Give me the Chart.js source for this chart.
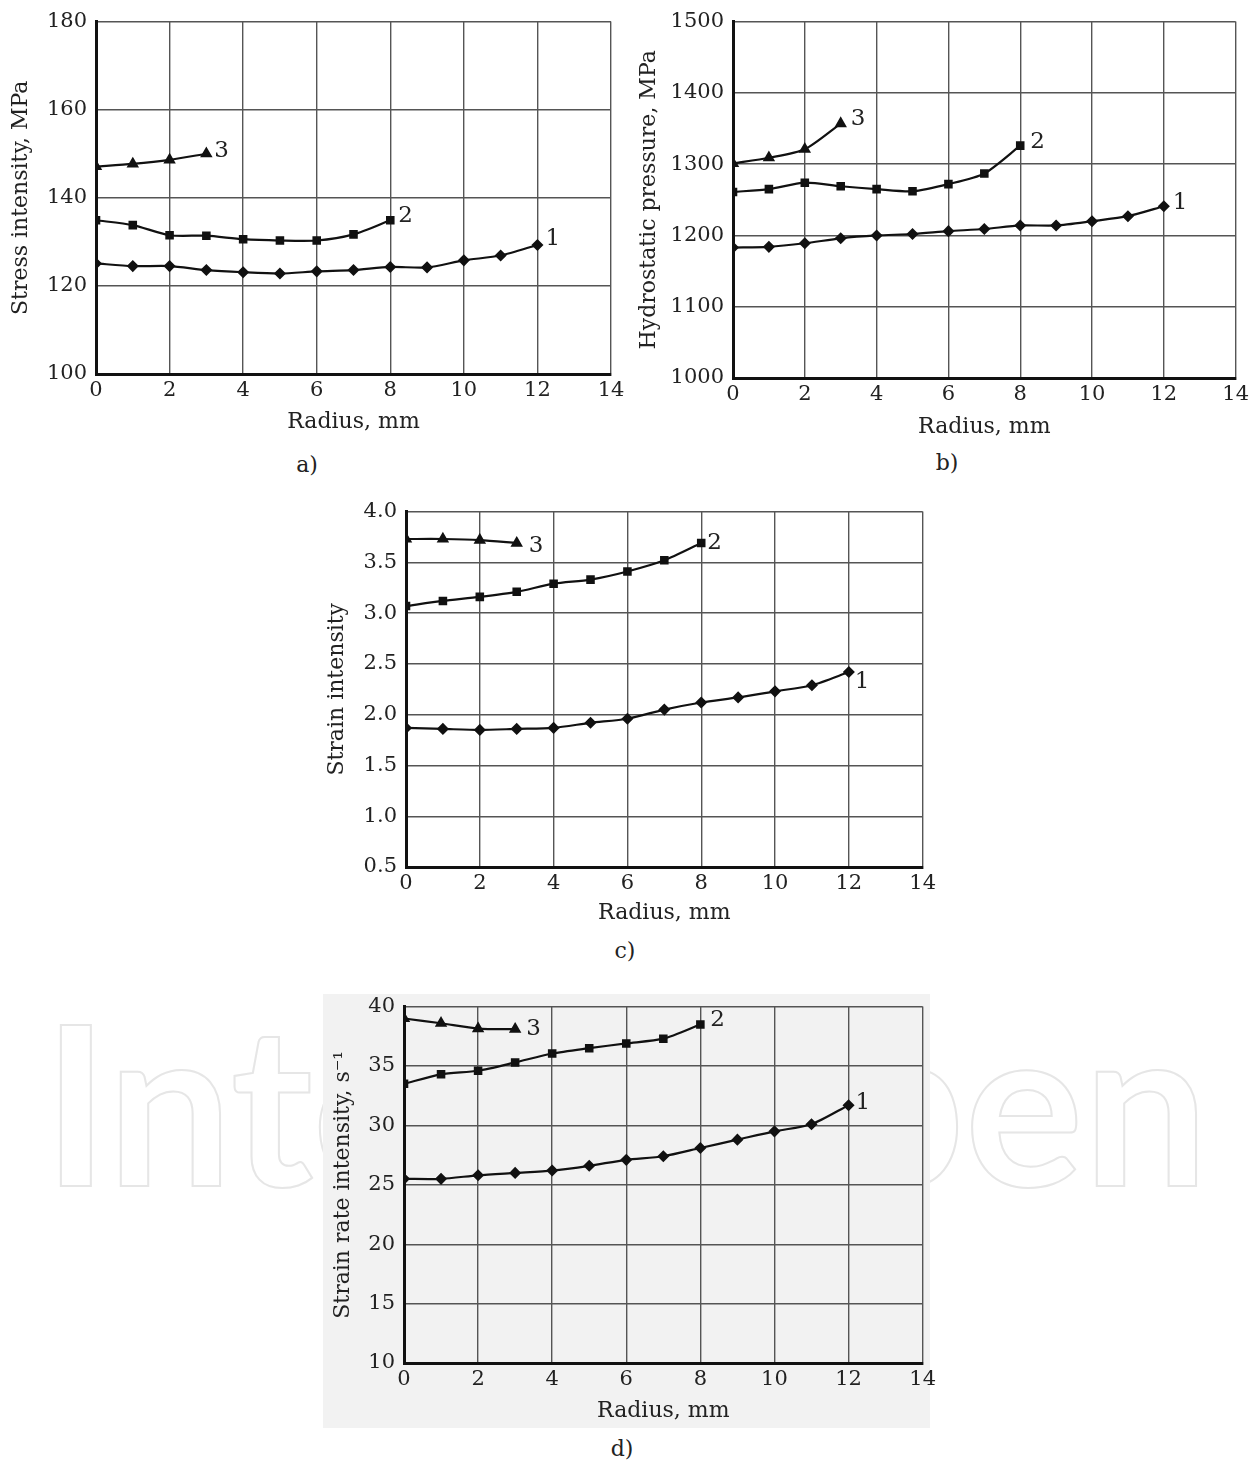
<!DOCTYPE html>
<html>
<head>
<meta charset="utf-8">
<script src="https://cdn.jsdelivr.net/npm/chart.js@4.4.1/dist/chart.umd.min.js"></script>
<style>
  html, body { margin: 0; padding: 0; background: #fff; }
  body { width: 1253px; height: 1463px; position: relative; overflow: hidden; font-family: "DejaVu Serif", serif; color: #222; }
  .box { position: absolute; }
  .box canvas { display: block; }
  .cap { position: absolute; font-size: 22px; transform: translate(-50%, -50%); }
  #watermark { position: absolute; left: 43px; top: 989px; font-family: Lato, sans-serif; font-weight: 700; font-size: 222px; line-height: 1; letter-spacing: 0px; color: transparent; -webkit-text-stroke: 2px #e6e6e6; white-space: nowrap; }
  #shade { position: absolute; left: 323px; top: 994px; width: 607px; height: 434px; background: #f2f2f2; }
</style>
</head>
<body>
<div id="watermark">IntechOpen</div>
<div id="shade"></div>

<div class="box" style="left:0px;top:0px;width:630px;height:440px"><canvas id="chartA"></canvas></div>
<div class="box" style="left:630px;top:0px;width:623px;height:440px"><canvas id="chartB"></canvas></div>
<div class="box" style="left:320px;top:490px;width:620px;height:440px"><canvas id="chartC"></canvas></div>
<div class="box" style="left:320px;top:985px;width:620px;height:445px"><canvas id="chartD"></canvas></div>

<div class="cap" style="left:307px;top:464px">a)</div>
<div class="cap" style="left:947px;top:462px">b)</div>
<div class="cap" style="left:625px;top:950px">c)</div>
<div class="cap" style="left:622px;top:1448px">d)</div>

<script>
// radius points of the three curves (mm)
const radius1 = [0, 1, 2, 3, 4, 5, 6, 7, 8, 9, 10, 11, 12];
const radius2 = [0, 1, 2, 3, 4, 5, 6, 7, 8];
const radius3 = [0, 1, 2, 3];

// a) stress intensity, MPa
const stress1 = [125.1, 124.5, 124.5, 123.6, 123.1, 122.8, 123.3, 123.6, 124.3, 124.2, 125.8, 126.9, 129.3];
const stress2 = [134.9, 133.8, 131.5, 131.4, 130.6, 130.3, 130.3, 131.7, 134.9];
const stress3 = [147.1, 147.7, 148.6, 150.0];

// b) hydrostatic pressure, MPa
const pressure1 = [1183, 1184, 1189, 1196, 1200, 1202, 1206, 1209, 1214, 1214, 1220, 1227, 1241];
const pressure2 = [1261, 1265, 1274, 1269, 1265, 1262, 1272, 1287, 1326];
const pressure3 = [1301, 1309, 1321, 1357];

// c) strain intensity
const strain1 = [1.87, 1.86, 1.85, 1.86, 1.87, 1.92, 1.96, 2.05, 2.12, 2.17, 2.23, 2.29, 2.42];
const strain2 = [3.07, 3.12, 3.16, 3.21, 3.29, 3.33, 3.41, 3.52, 3.69];
const strain3 = [3.73, 3.73, 3.72, 3.69];

// d) strain rate intensity, 1/s
const rate1 = [25.5, 25.5, 25.8, 26.0, 26.2, 26.6, 27.1, 27.4, 28.1, 28.8, 29.5, 30.1, 31.7];
const rate2 = [33.5, 34.3, 34.6, 35.3, 36.05, 36.5, 36.9, 37.3, 38.5];
const rate3 = [39.0, 38.6, 38.15, 38.1];

const curveNames = ['1', '2', '3'];
const xTicks = { min: 0, max: 14, step: 2 };

// number next to the end of each curve
const curveLabels = {
    id: 'curveLabels',
    afterDatasetsDraw(chart) {
        const ctx = chart.ctx;
        ctx.save();
        ctx.font = '23px "DejaVu Serif"';
        ctx.fillStyle = '#222';
        ctx.textBaseline = 'middle';
        chart.data.datasets.forEach((ds, i) => {
            const pts = chart.getDatasetMeta(i).data;
            const last = pts[pts.length - 1];
            ctx.fillText(ds.label, last.x + ds.labelOffset[0], last.y + ds.labelOffset[1]);
        });
        ctx.restore();
    }
};

function pairs(xs, ys) {
    return xs.map((x, i) => ({ x: x, y: ys[i] }));
}

function curve(name, xs, ys, style, radius, offset) {
    return {
        label: name,
        data: pairs(xs, ys),
        borderColor: '#111',
        backgroundColor: '#111',
        borderWidth: 2.2,
        pointStyle: style,
        pointRadius: radius,
        pointHoverRadius: radius,
        tension: 0.25,
        labelOffset: offset
    };
}

function makeChart(id, cfg) {
    const tickFont = { family: 'DejaVu Serif', size: 21 };
    const titleFont = { family: 'DejaVu Serif', size: 22 };
    new Chart(document.getElementById(id), {
        type: 'line',
        data: {
            datasets: [
                curve(curveNames[0], radius1, cfg.s1, 'rectRot', 4.5, cfg.off[0]),
                curve(curveNames[1], radius2, cfg.s2, 'rect', 4.5, cfg.off[1]),
                curve(curveNames[2], radius3, cfg.s3, 'triangle', 5, cfg.off[2])
            ]
        },
        options: {
            responsive: true,
            maintainAspectRatio: false,
            animation: false,
            devicePixelRatio: 1,
            layout: { padding: { top: cfg.padTop, right: cfg.padRight, left: 0, bottom: 0 } },
            plugins: { legend: { display: false }, tooltip: { enabled: false } },
            scales: {
                x: {
                    type: 'linear',
                    min: xTicks.min,
                    max: xTicks.max,
                    afterFit: s => { s.height = cfg.xHeight; },
                    ticks: { stepSize: xTicks.step, color: '#222', font: tickFont, padding: 4, maxRotation: 0 },
                    grid: { color: '#555', lineWidth: 1.4, drawTicks: false },
                    border: { color: '#111', width: 3 },
                    title: { display: true, text: 'Radius, mm', color: '#222', font: titleFont, padding: { top: 0, bottom: cfg.xTitlePad } }
                },
                y: {
                    min: cfg.yMin,
                    max: cfg.yMax,
                    afterFit: s => { s.width = cfg.yWidth; },
                    ticks: {
                        stepSize: cfg.yStep,
                        color: '#222',
                        font: tickFont,
                        padding: 9,
                        callback: v => cfg.fmt ? v.toFixed(1) : v
                    },
                    grid: { color: '#555', lineWidth: 1.4, drawTicks: false },
                    border: { color: '#111', width: 3 },
                    title: { display: true, text: cfg.yTitle, color: '#222', font: titleFont, padding: { top: cfg.yTitlePad, bottom: 0 } }
                }
            }
        },
        plugins: [curveLabels]
    });
}

makeChart('chartA', {
    s1: stress1, s2: stress2, s3: stress3,
    yMin: 100, yMax: 180, yStep: 20,
    yTitle: 'Stress intensity, MPa',
    yWidth: 96, xHeight: 66, padTop: 16, padRight: 19,
    xTitlePad: 5, yTitlePad: 8,
    off: [[8, -6], [8, -4], [8, -3]]
});

makeChart('chartB', {
    s1: pressure1, s2: pressure2, s3: pressure3,
    yMin: 1000, yMax: 1500, yStep: 100,
    yTitle: 'Hydrostatic pressure, MPa',
    yWidth: 103, xHeight: 62, padTop: 14, padRight: 15,
    xTitlePad: 0, yTitlePad: 6,
    off: [[9, -3], [10, -4], [10, -4]]
});

makeChart('chartC', {
    s1: strain1, s2: strain2, s3: strain3,
    yMin: 0.5, yMax: 4.0, yStep: 0.5, fmt: true,
    yTitle: 'Strain intensity',
    yWidth: 86, xHeight: 63, padTop: 16, padRight: 15,
    xTitlePad: 4, yTitlePad: 4,
    off: [[6, 10], [6, 0], [12, 3]]
});

makeChart('chartD', {
    s1: rate1, s2: rate2, s3: rate3,
    yMin: 10, yMax: 40, yStep: 5,
    yTitle: 'Strain rate intensity, s⁻¹',
    yWidth: 84, xHeight: 67, padTop: 16, padRight: 17,
    xTitlePad: 6, yTitlePad: 10,
    off: [[7, -2], [10, -4], [11, 0]]
});
</script>
</body>
</html>
